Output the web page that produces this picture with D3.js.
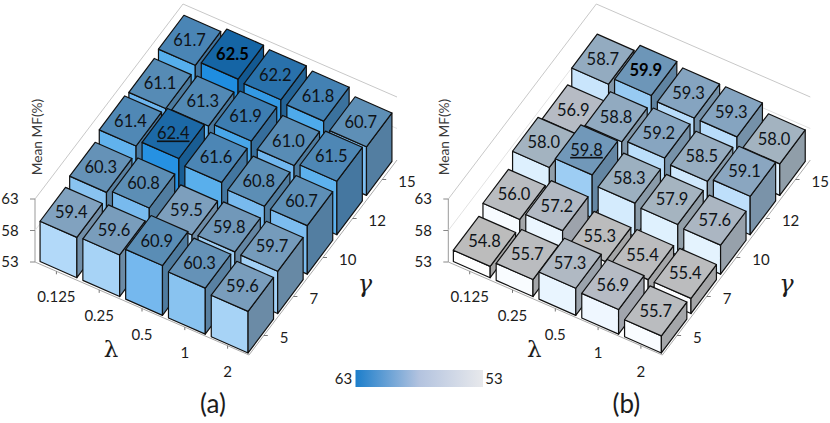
<!DOCTYPE html>
<html><head><meta charset="utf-8">
<script src="https://cdn.jsdelivr.net/npm/d3@7"></script>
<style>html,body{margin:0;padding:0;background:#fff}svg{display:block}text{font-family:Lato,"Open Sans",sans-serif;fill:#1c1c1c}</style>
</head><body><svg id="c" width="830" height="423"></svg>
<script>
const lambdas = ["0.125","0.25","0.5","1","2"];
const gammas = ["5","7","10","12","15"];
const valuesA = [
 [59.4,59.6,60.9,60.3,59.6],
 [60.3,60.8,59.5,59.8,59.7],
 [61.4,62.4,61.6,60.8,60.7],
 [61.1,61.3,61.9,61.0,61.5],
 [61.7,62.5,62.2,61.8,60.7]];
const valuesB = [
 [54.8,55.7,57.3,56.9,55.7],
 [56.0,57.2,55.3,55.4,55.4],
 [58.0,59.8,58.3,57.9,57.6],
 [56.9,58.8,59.2,58.5,59.1],
 [58.7,59.9,59.3,59.3,58.0]];
const zTicks = [53,58,63];
const underlinedA = 62.4, boldA = 62.5, underlinedB = 59.8, boldB = 59.9;
const colorStops = [55,57,58,59.3,59.9,60.9,61.7,62.5];
const frontColors = ["#ffffff","#eef7ff","#ddf0fe","#b8dcfa","#97caf2","#75b8ee","#55aeec","#1f8de0"];
const topColors = ["#bcbcbc","#b6bbc4","#a3b3c0","#85a4c0","#6d96b8","#5a8db5","#4a85b5","#1565a5"];

const svg = d3.select("#c");
const front = d3.scaleLinear().domain(colorStops).range(frontColors).clamp(true);
const topc = d3.scaleLinear().domain(colorStops).range(topColors).clamp(true);

const defs = svg.append("defs");
const g = defs.append("linearGradient").attr("id","lg");
[[0,"#1c7ecb"],[.5,"#b3c3df"],[1,"#e8e9ec"]].forEach(([o,c])=>g.append("stop").attr("offset",o).attr("stop-color",c));
svg.append("rect").attr("x",355.5).attr("y",370).attr("width",127.5).attr("height",17).attr("fill","url(#lg)");
svg.append("text").attr("x",343.5).attr("y",384).attr("text-anchor","middle").attr("font-size",15).text("63");
svg.append("text").attr("x",494).attr("y",384).attr("text-anchor","middle").attr("font-size",15).text("53");

function panel(dx, values, under, bold, caption, lamX, gamX, lamY, mfX){
  const root = svg.append("g").attr("transform",`translate(${dx},0)`);
  const O=[35,262], L=[214,93], G=[148,-195];
  const O2=[35,263], L2=[214,94], G2=[148,-197];
  const bl = d3.scaleBand().domain(lambdas).range([0,1]).paddingInner(0.14).paddingOuter(0.07);
  const bg = d3.scaleBand().domain(gammas).range([0,1]).paddingInner(0.14).paddingOuter(0.07);
  const z = d3.scaleLinear().domain([53,63]).range([0,63]);
  const P=(u,v,h=0)=>[O[0]+u*L[0]+v*G[0], O[1]+u*L[1]+v*G[1]-h];
  const Q=(u,v,h=0)=>[O2[0]+u*L2[0]+v*G2[0], O2[1]+u*L2[1]+v*G2[1]-h];
  const wall="#c8c8c8";
  const line=(a,b,c=wall,w=1)=>root.append("line").attr("x1",a[0]).attr("y1",a[1]).attr("x2",b[0]).attr("y2",b[1]).attr("stroke",c).attr("stroke-width",w);
  const H=z(63);
  line(P(0,0),P(0,0,H),"#999");
  zTicks.slice(1).forEach(t=>{
    const c=t===63?wall:"#e2e2e2";
    line(P(0,0,z(t)),P(0,1,z(t)),c);
    line(P(0,1,z(t)),P(1,1,z(t)),c);
  });
  line(P(0,0),P(1,0),"#aaa");
  line(P(1,0),P(1,1),"#aaa");
  zTicks.forEach(t=>{
    const p=P(0,0,z(t));
    line([p[0]-5,p[1]],p,"#888");
    root.append("text").attr("x",p[0]-25).attr("y",p[1]+5).attr("text-anchor","middle").attr("font-size",15).text(t);
  });
  root.append("text").attr("transform",`translate(${mfX},137) rotate(-90)`).attr("text-anchor","middle").attr("font-size",13.7).style("fill","#3a3a3a").text("Mean MF(%)");
  lambdas.forEach(l=>{
    const u=bl(l)+bl.bandwidth()/2, p=P(u,0);
    line(p,[p[0],p[1]+3],"#777");
    root.append("text").attr("x",p[0]).attr("y",p[1]+31).attr("text-anchor","middle").attr("font-size",15).text(l);
  });
  gammas.forEach(c=>{
    const v=bg(c)+bg.bandwidth()/2, p=P(1,v);
    line(p,[p[0]+4,p[1]],"#777");
    root.append("text").attr("x",p[0]+16).attr("y",p[1]+7).attr("font-size",15).text(c);
  });
  root.append("text").attr("x",lamX).attr("y",lamY).attr("text-anchor","middle").attr("font-size",23).style("font-family","'DejaVu Serif','Liberation Serif',serif").text("λ");
  root.append("text").attr("x",gamX).attr("y",292).attr("text-anchor","middle").attr("font-size",24).attr("font-style","italic").style("font-family","'DejaVu Serif',serif").text("γ");
  root.append("text").attr("x",213).attr("y",413).attr("text-anchor","middle").attr("font-size",26).text(caption);
  const poly=(pts,fill)=>root.append("polygon").attr("points",pts.map(p=>p.join(",")).join(" ")).attr("fill",fill).attr("stroke","#111").attr("stroke-width",1.2).attr("stroke-linejoin","round");
  d3.range(gammas.length-1,-1,-1).forEach(j=>{
    lambdas.forEach((lam,i)=>{
      const val=values[j][i], h=z(val);
      const u0=bl(lam),u1=u0+bl.bandwidth(),v0=bg(gammas[j]),v1=v0+bg.bandwidth();
      const t=topc(val), fr=front(val), side=d3.color(t).darker(0.35)+"";
      poly([Q(u0,v0,h),Q(u1,v0,h),Q(u1,v0),Q(u0,v0)],fr);
      poly([Q(u1,v0,h),Q(u1,v1,h),Q(u1,v1),Q(u1,v0)],side);
      poly([Q(u0,v0,h),Q(u1,v0,h),Q(u1,v1,h),Q(u0,v1,h)],t);
      const c=Q((u0+u1)/2,(v0+v1)/2,h);
      const tx=root.append("text").attr("x",c[0]).attr("y",c[1]+6).attr("text-anchor","middle").attr("font-size",16.5).style("fill","#0e1318").text(val.toFixed(1));
      if(val===bold) tx.attr("font-weight","bold").style("fill","#000");
      if(val===under) tx.attr("text-decoration","underline");
    });
  });
}
panel(0,valuesA,underlinedA,boldA,"(a)",111,365,357,42);
panel(413.3,valuesB,underlinedB,boldB,"(b)",121,373,357,36);
</script></body></html>
